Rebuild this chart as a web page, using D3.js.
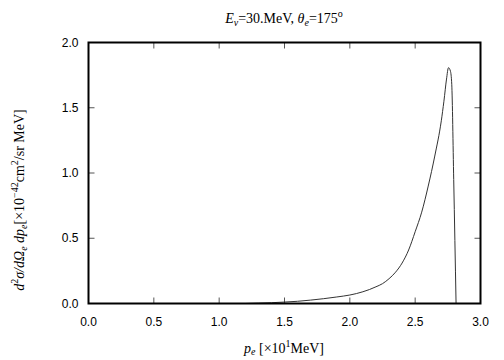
<!DOCTYPE html>
<html><head><meta charset="utf-8">
<script src="https://cdn.jsdelivr.net/npm/d3@7"></script>
<style>body{margin:0;background:#fff}</style>
</head><body>
<svg id="c" width="504" height="360"></svg>
<script>
const pe = [1.2,1.3,1.4,1.5,1.6,1.7,1.8,1.9,2.0,2.05,2.1,2.15,2.2,2.25,2.3,2.35,2.4,2.45,2.5,2.55,2.6,2.65,2.7,2.72,2.74,2.755,2.77,2.78,2.795,2.813];
const xs  = [0,0.003,0.006,0.011,0.017,0.026,0.037,0.05,0.065,0.076,0.09,0.107,0.128,0.152,0.19,0.24,0.31,0.41,0.55,0.7,0.9,1.13,1.40,1.55,1.72,1.807,1.78,1.68,0.95,0];
const xTicks = [0,0.5,1.0,1.5,2.0,2.5,3.0];
const yTicks = [0,0.5,1.0,1.5,2.0];

const svg = d3.select("#c");
const L=88.5,R=480.5,T=42.5,B=303.5;
const x = d3.scaleLinear().domain([0,3]).range([L,R]);
const y = d3.scaleLinear().domain([0,2]).range([B,T]);

const tl=6;
const g = svg.append("g");
xTicks.forEach(t=>{
  g.append("line").attr("x1",x(t)).attr("x2",x(t)).attr("y1",B).attr("y2",B-tl).attr("stroke","#555").attr("stroke-width",1);
  g.append("line").attr("x1",x(t)).attr("x2",x(t)).attr("y1",T).attr("y2",T+tl).attr("stroke","#555").attr("stroke-width",1);
  g.append("text").attr("x",x(t)).attr("y",B+22).attr("text-anchor","middle")
   .attr("font-family","Liberation Sans, Arial, sans-serif").attr("font-size",12).text(t.toFixed(1));
});
yTicks.forEach(t=>{
  g.append("line").attr("x1",L).attr("x2",L+tl).attr("y1",y(t)).attr("y2",y(t)).attr("stroke","#555").attr("stroke-width",1);
  g.append("line").attr("x1",R).attr("x2",R-tl).attr("y1",y(t)).attr("y2",y(t)).attr("stroke","#555").attr("stroke-width",1);
  g.append("text").attr("x",L-10).attr("y",y(t)+4).attr("text-anchor","end")
   .attr("font-family","Liberation Sans, Arial, sans-serif").attr("font-size",12).text(t.toFixed(1));
});

const line = d3.line().x((d,i)=>x(pe[i])).y(d=>y(d)).curve(d3.curveMonotoneX);
svg.append("path").attr("d",line(xs)).attr("fill","none").attr("stroke","#333").attr("stroke-width",1);

svg.append("rect").attr("x",L).attr("y",T).attr("width",R-L).attr("height",B-T)
  .attr("fill","none").attr("stroke","#000").attr("stroke-width",2);

const serif="Liberation Serif, Times New Roman, serif";
const fs=14, ss=10;
const tt = svg.append("text").attr("x",284).attr("y",23).attr("text-anchor","middle")
  .attr("font-family",serif).attr("font-size",fs);
tt.append("tspan").attr("font-style","italic").text("E");
tt.append("tspan").attr("font-style","italic").attr("font-size",ss).attr("dy",3).text("ν");
tt.append("tspan").attr("dy",-3).text("=30.MeV, ");
tt.append("tspan").attr("font-style","italic").text("θ");
tt.append("tspan").attr("font-style","italic").attr("font-size",ss).attr("dy",3).text("e");
tt.append("tspan").attr("dy",-3).text("=175");
tt.append("tspan").attr("font-size",ss).attr("dy",-6).text("o");

const xl = svg.append("text").attr("x",284).attr("y",353).attr("text-anchor","middle")
  .attr("font-family",serif).attr("font-size",fs);
xl.append("tspan").attr("font-style","italic").text("p");
xl.append("tspan").attr("font-style","italic").attr("font-size",ss).attr("dy",2).text("e");
xl.append("tspan").attr("dy",-2).text(" [×10");
xl.append("tspan").attr("font-size",ss).attr("dy",-6).text("1");
xl.append("tspan").attr("dy",6).text("MeV]");

const yl = svg.append("text").attr("transform","translate(24,200) rotate(-90)").attr("text-anchor","middle")
  .attr("font-family",serif).attr("font-size",fs);
yl.append("tspan").attr("font-style","italic").text("d");
yl.append("tspan").attr("font-size",ss).attr("dy",-6).text("2");
yl.append("tspan").attr("font-style","italic").attr("dy",6).text("σ/dΩ");
yl.append("tspan").attr("font-style","italic").attr("font-size",ss).attr("dy",3).text("e");
yl.append("tspan").attr("font-style","italic").attr("dy",-3).text(" dp");
yl.append("tspan").attr("font-style","italic").attr("font-size",ss).attr("dy",3).text("e");
yl.append("tspan").attr("dy",-3).text("[×10");
yl.append("tspan").attr("font-size",ss).attr("dy",-6).text("−42");
yl.append("tspan").attr("dy",6).text("cm");
yl.append("tspan").attr("font-size",ss).attr("dy",-6).text("2");
yl.append("tspan").attr("dy",6).text("/sr MeV]");
</script>
</body></html>
